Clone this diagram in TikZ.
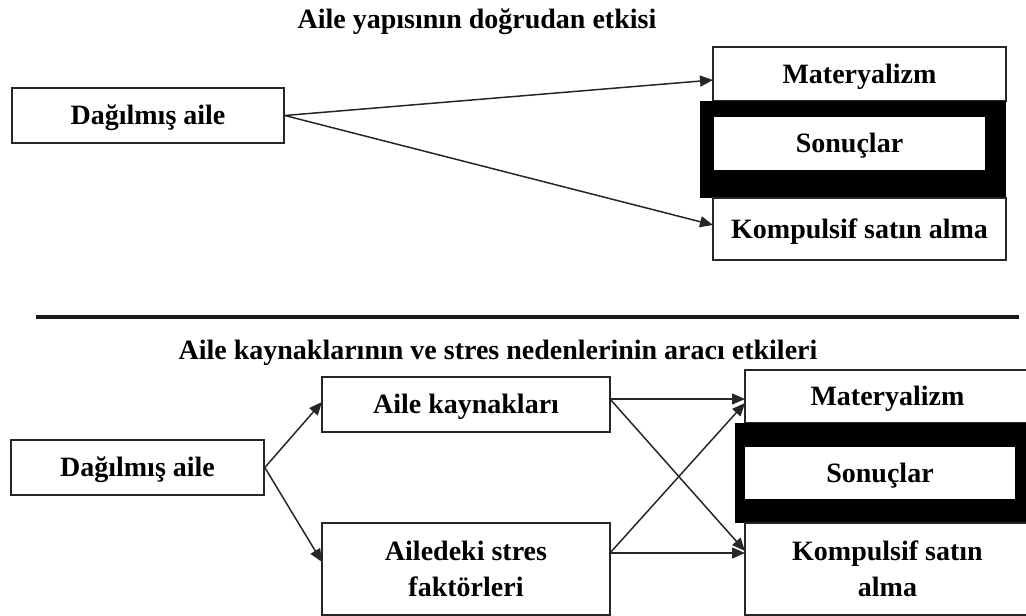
\documentclass[tikz,border=0pt]{standalone}
\usepackage{fontspec}
\setmainfont{Liberation Serif}
\usetikzlibrary{arrows.meta,calc}

\tikzset{
  lbl/.style={font=\fontsize{28}{36}\selectfont\bfseries, inner sep=0pt, align=center,
              text height=18.5pt, text depth=0pt},
  twoline/.style={text height=54.5pt, text depth=0pt},
  box/.style={lbl, draw=black!85, line width=1.6pt, fill=white},
  frame/.style={draw=none, fill=black, inner sep=0pt, text height=0pt, text depth=0pt},
  conn/.style={draw=black!85, line width=1.5pt, -{Triangle[length=13pt,width=11pt]}},
  rule/.style={line width=4pt, black!90}
}

\begin{document}
\begin{tikzpicture}[x=1pt, y=-1pt]
  \useasboundingbox (0,0) rectangle (1026,616);
  \clip (0,0) rectangle (1026,616);

  % ---- Upper panel: direct effect ----
  \node[lbl] (title1) at (477,19) {Aile yapısının doğrudan etkisi};

  \node[box, minimum width=272pt, minimum height=55pt] (d1) at (148,115.5) {Dağılmış aile};

  \node[box, minimum width=293pt, minimum height=54pt] (mat1) at (859.5,74) {Materyalizm};
  \node[frame, minimum width=306pt, minimum height=97pt] (fr1) at (853,149.5) {};
  \node[box, draw=none, minimum width=271pt, minimum height=53pt] (son1) at (849.5,143.5) {Sonuçlar};
  \node[box, minimum width=293pt, minimum height=62pt] (komp1) at (859.5,229) {Kompulsif satın alma};

  \coordinate (m1in) at (713,80);
  \coordinate (k1in) at (713,225);
  \draw[conn] (d1.east) -- (m1in);
  \draw[conn] (d1.east) -- (k1in);

  % ---- Separator ----
  \coordinate (ruleL) at (36,317);
  \coordinate (ruleR) at (1019,317);
  \draw[rule] (ruleL) -- (ruleR);

  % ---- Lower panel: mediated effects ----
  \node[lbl] (title2) at (498,350) {Aile kaynaklarının ve stres nedenlerinin aracı etkileri};

  \node[box, minimum width=253pt, minimum height=55pt] (d2) at (137.5,467.5) {Dağılmış aile};
  \node[box, minimum width=288pt, minimum height=55pt] (ak) at (466,404.5) {Aile kaynakları};
  \node[box, twoline, minimum width=288pt, minimum height=92pt] (as) at (466,569) {Ailedeki stres\\faktörleri};

  \node[box, minimum width=285pt, minimum height=53pt] (mat2) at (887.5,396.5) {Materyalizm};
  \node[frame, minimum width=295pt, minimum height=100pt] (fr2) at (882.5,473) {};
  \node[box, draw=none, minimum width=270pt, minimum height=52pt] (son2) at (880,473) {Sonuçlar};
  \node[box, twoline, minimum width=285pt, minimum height=92pt] (komp2) at (887.5,569) {Kompulsif satın\\alma};

  \coordinate (akIn) at (322,402);
  \coordinate (asIn) at (322,562);
  \draw[conn] (d2.east) -- (akIn);
  \draw[conn] (d2.east) -- (asIn);

  \coordinate (akOut) at (610,399);
  \coordinate (asOut) at (610,553);
  \coordinate (m2a) at (745,399);
  \coordinate (m2b) at (745,403);
  \coordinate (k2a) at (745,553);
  \coordinate (k2b) at (745,551);
  \draw[conn] (akOut) -- (m2a);
  \draw[conn] (akOut) -- (k2b);
  \draw[conn] (asOut) -- (k2a);
  \draw[conn] (asOut) -- (m2b);
\end{tikzpicture}
\end{document}
